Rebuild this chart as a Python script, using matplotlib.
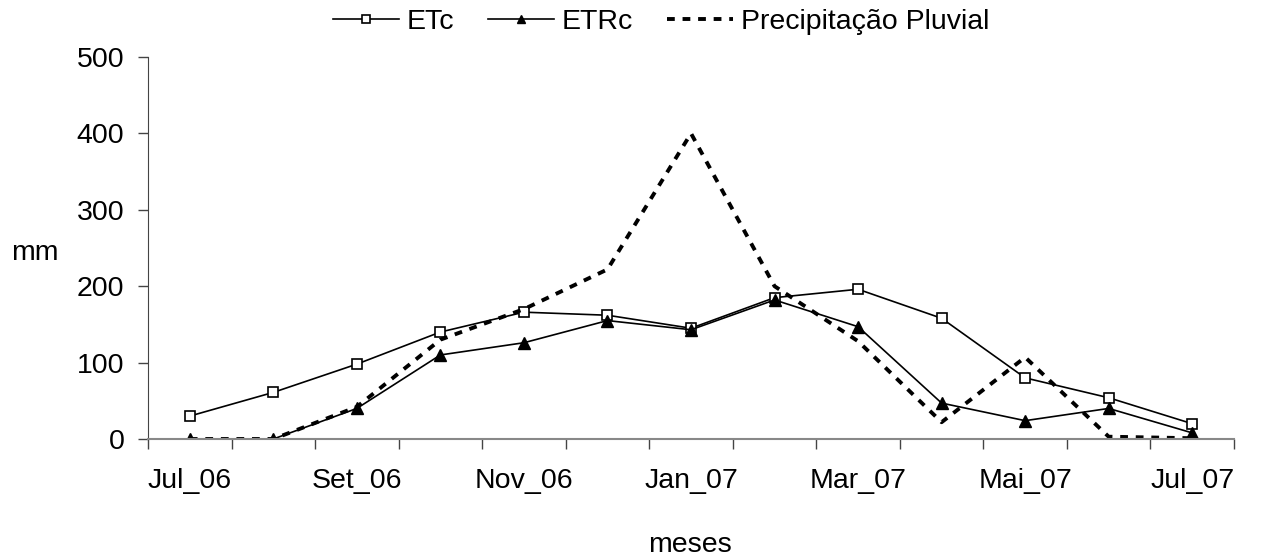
import numpy as np
import matplotlib.pyplot as plt
from matplotlib.ticker import FixedLocator

plt.rcParams['font.family'] = ['Liberation Sans', 'DejaVu Sans']

meses = ['Jul_06', 'Ago_06', 'Set_06', 'Out_06', 'Nov_06', 'Dez_06', 'Jan_07',
         'Fev_07', 'Mar_07', 'Abr_07', 'Mai_07', 'Jun_07', 'Jul_07']
etc = [30, 61, 98, 140, 166, 162, 145, 185, 196, 158, 80, 54, 20]
etrc = [0, 0, 40, 110, 126, 155, 143, 182, 147, 47, 24, 40, 8]
precip = [0, 0, 42, 130, 170, 222, 400, 200, 128, 22, 107, 3, 1]

x = np.arange(len(meses))
fs = 20.5

fig = plt.figure(figsize=(12.61, 5.59), dpi=100)
ax = fig.add_axes([148 / 1261, 1 - 439 / 559, (1234 - 148) / 1261, (439 - 57) / 559])

ax.plot(x, etc, color='black', lw=1.2, marker='s', ms=7.5, mfc='white', mec='black', mew=1.2,
        label='ETc')
ax.plot(x, etrc, color='black', lw=1.2, marker='^', ms=9, mfc='black', mec='black',
        label='ETRc')
ax.plot(x, precip, color='black', lw=2.8, ls=(0, (2, 2)), label='Precipitação Pluvial')

ax.set_xlim(-0.5, len(meses) - 0.5)
ax.set_ylim(0, 500)
ax.set_yticks(np.arange(0, 501, 100))

ax.set_xticks(x[::2])
ax.set_xticklabels(meses[::2])
ax.xaxis.set_minor_locator(FixedLocator(np.arange(-0.5, len(meses), 1)))
ax.tick_params(axis='x', which='major', length=0, pad=21, labelsize=fs)
ax.tick_params(axis='x', which='minor', length=7, width=1, color='#444444')
ax.tick_params(axis='y', length=7, width=1, labelsize=fs, color='#444444', pad=10)

for s in ['top', 'right']:
    ax.spines[s].set_visible(False)
ax.spines['left'].set_color('#444444')
ax.spines['bottom'].set_color('#888888')
ax.spines['bottom'].set_linewidth(1.5)

fig.text(11 / 1261, 1 - 253 / 559, 'mm', fontsize=fs, ha='left', va='center')
fig.text(690 / 1261, 1 - 545 / 559, 'meses', fontsize=fs, ha='center', va='center')

fig.legend(loc='upper center', bbox_to_anchor=(661 / 1261, 1.03), ncol=3, frameon=False,
           fontsize=fs, handlelength=2.3, columnspacing=1.2, handletextpad=0.28,
           markerscale=0.7)

fig.savefig('out.png', dpi=100)
